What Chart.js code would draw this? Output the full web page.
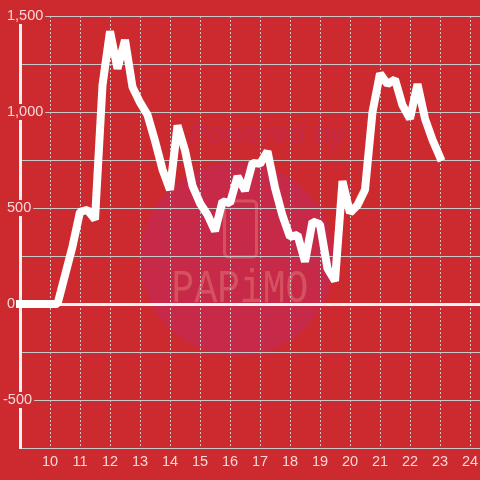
<!DOCTYPE html>
<html>
<head>
<meta charset="utf-8">
<style>
html, body { margin: 0; padding: 0; background: #cc2a2e; }
canvas { display: block; }
</style>
<script src="https://cdn.jsdelivr.net/npm/chart.js@4"></script>
</head>
<body>
<canvas id="chart" width="480" height="480"></canvas>
<script>
// hours, one reading every 15 minutes
const hours = [9, 9.25, 9.5, 9.75, 10, 10.25, 10.5, 10.75, 11, 11.25, 11.5, 11.75,
    12, 12.25, 12.5, 12.75, 13, 13.25, 13.5, 13.75, 14, 14.25, 14.5, 14.75,
    15, 15.25, 15.5, 15.75, 16, 16.25, 16.5, 16.75, 17, 17.25, 17.5, 17.75,
    18, 18.25, 18.5, 18.75, 19, 19.25, 19.5, 19.75, 20, 20.25, 20.5, 20.75,
    21, 21.25, 21.5, 21.75, 22, 22.25, 22.5, 22.75, 23];
const values = [0, 0, 0, 0, 0, 0, 150, 300, 480, 490, 440, 1140,
    1420, 1225, 1375, 1130, 1050, 985, 850, 700, 595, 930, 800, 615,
    525, 465, 380, 535, 525, 665, 590, 735, 730, 795, 605, 460,
    350, 360, 220, 430, 415, 185, 120, 640, 475, 515, 595, 1000,
    1200, 1145, 1170, 1035, 965, 1145, 965, 855, 765];
const labeledYTicks = [1500, 1000, 500, 0, -500];

const background = '#cc2a2e';
const lineColor = '#ffffff';
const axisColor = '#f2f2f2';
const gridColor = '#c9c9c9';
const labelColor = 'rgba(255, 255, 255, 0.82)';

// faint "Powered by" watermark behind the plot
const watermark = {
    id: 'watermark',
    beforeDraw(chart) {
        const ctx = chart.ctx;
        ctx.save();
        ctx.fillStyle = background;
        ctx.fillRect(0, 0, chart.width, chart.height);
        ctx.fillStyle = '#c72a48';
        ctx.beginPath();
        ctx.arc(237, 259, 97, 0, Math.PI * 2);
        ctx.fill();
        ctx.fillStyle = '#c62a42';
        ctx.font = 'italic bold 28px "Liberation Sans"';
        ctx.textAlign = 'center';
        ctx.textBaseline = 'middle';
        ctx.fillText('Powered by', 267, 135);
        ctx.strokeStyle = '#d4525f';
        ctx.lineWidth = 3;
        ctx.beginPath();
        ctx.roundRect(224.5, 201, 32, 56, 4);
        ctx.stroke();
        ctx.fillStyle = '#d4525f';
        ctx.font = '38px "Liberation Mono"';
        ctx.translate(240, 290);
        ctx.scale(1, 1.2);
        ctx.fillText('PAPiMO', 0, 0);
        ctx.restore();
    }
};

new Chart(document.getElementById('chart'), {
    type: 'line',
    data: {
        datasets: [{
            data: hours.map((h, i) => ({ x: h, y: values[i] })),
            borderColor: lineColor,
            borderWidth: 8,
            borderJoinStyle: 'bevel',
            borderCapStyle: 'square',
            pointRadius: 0,
            tension: 0,
            clip: false
        }]
    },
    options: {
        responsive: false,
        animation: false,
        layout: { padding: { top: 16, left: 3 } },
        plugins: { legend: { display: false }, tooltip: { enabled: false } },
        scales: {
            x: {
                type: 'linear',
                min: 9,
                max: 24.3333,
                afterFit(scale) {
                    scale.height = 32;
                    scale.paddingLeft = 0;
                    scale.paddingRight = 0;
                },
                grid: { color: gridColor, lineWidth: 1, drawTicks: false },
                border: { color: gridColor, width: 1, dash: [2, 2] },
                ticks: {
                    stepSize: 1,
                    includeBounds: false,
                    autoSkip: false,
                    maxRotation: 0,
                    padding: 5,
                    color: labelColor,
                    font: { family: '"Liberation Sans"', size: 14.5 },
                    callback: (v) => (v === 9 ? '' : String(v))
                }
            },
            y: {
                min: -750,
                max: 1500,
                afterFit(scale) { scale.width = 17; },
                grid: {
                    drawTicks: false,
                    color: (ctx) => (ctx.tick.value === 0 ? axisColor : gridColor),
                    lineWidth: (ctx) => (ctx.tick.value === 0 ? 3 : 1)
                },
                border: { color: axisColor, width: 3 },
                ticks: {
                    stepSize: 250,
                    autoSkip: false,
                    // mirrored labels are not clipped to the narrow axis box,
                    // negative padding pulls them back left of the axis line
                    mirror: true,
                    padding: -17,
                    color: labelColor,
                    font: { family: '"Liberation Sans"', size: 14.5, lineHeight: 1.1 },
                    showLabelBackdrop: (ctx) => labeledYTicks.includes(ctx.tick.value),
                    backdropColor: background,
                    backdropPadding: { left: 2, right: 2, top: 0, bottom: 0 },
                    // the leading space lets the minus sign hang left of the digits
                    callback: (v) => {
                        if (!labeledYTicks.includes(v)) return '';
                        return (v < 0 ? '' : ' ') + v.toLocaleString('en-US');
                    }
                }
            }
        }
    },
    plugins: [watermark]
});
</script>
</body>
</html>
